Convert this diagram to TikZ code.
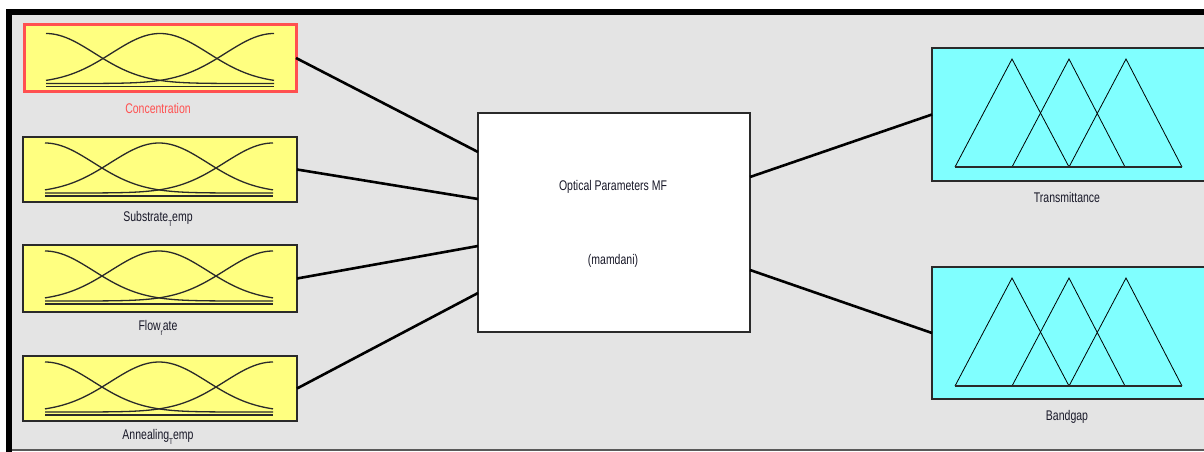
\documentclass[tikz,border=0pt]{standalone}
\usepackage{fontspec}
\newfontfamily\lab[FakeStretch=0.75]{Liberation Sans}
\usetikzlibrary{calc}
\definecolor{bggray}{HTML}{E4E4E4}
\definecolor{inyellow}{HTML}{FFFF80}
\definecolor{outcyan}{HTML}{80FFFF}
\definecolor{selred}{HTML}{FF5050}
\definecolor{boxline}{HTML}{2A2A2A}
\definecolor{txtgray}{HTML}{181828}
\newcommand{\sub}[1]{\raisebox{-0.7ex}{\fontsize{8.5}{8.5}\selectfont #1}}
\newcommand{\gaussmfs}{%
  \draw[mfline] plot[domain=0:228,samples=70] (\x,{56-50*exp(-0.5*((\x)/48.4)^2)});
  \draw[mfline] plot[domain=0:228,samples=70] (\x,{56-50*exp(-0.5*((\x-114)/48.4)^2)});
  \draw[mfline] plot[domain=0:228,samples=70] (\x,{56-50*exp(-0.5*((\x-228)/48.4)^2)});
  \draw[mfline] (0,59) -- (228,59);}
\newcommand{\trimfs}{%
  \draw[triline] (23,119) -- (80,11) -- (137,119);
  \draw[triline] (80,119) -- (137,11) -- (193,119);
  \draw[triline] (137,119) -- (194,11) -- (250,119);
  \draw[line width=1.6pt,color=boxline] (23,119) -- (250,119);}
\tikzset{
  inbox/.style={draw=boxline, fill=inyellow, line width=1.2pt, minimum width=274pt, inner sep=0pt, outer sep=0pt},
  outbox/.style={draw=boxline, fill=outcyan, line width=1.2pt, inner sep=0pt, outer sep=0pt},
  sysbox/.style={draw=boxline, fill=white, line width=1.6pt, minimum width=272pt, minimum height=219pt, inner sep=0pt, outer sep=0pt},
  lbl/.style={font=\lab\fontsize{14}{16}\selectfont, text=txtgray, inner sep=0pt},
  conn/.style={line width=2.6pt, color=black},
  mfline/.style={line width=1.3pt, color=boxline},
  triline/.style={line width=0.8pt, color=black},
}
\begin{document}
\begin{tikzpicture}[x=1pt,y=-1pt]
\useasboundingbox (0,0) rectangle (1204,452);
\clip (0,0) rectangle (1204,452);
\fill[white] (0,0) rectangle (1204,452);
\fill[bggray] (12,15) rectangle (1204,449);
\fill[black] (6,9) rectangle (1204,15);
\fill[black] (6,9) rectangle (12,452);
\fill[black!65] (12,449) rectangle (1204,451);
% inputs
\node[inbox, draw=selred, line width=3pt, minimum width=272pt, minimum height=67pt] (conc) at (160,58) {};
\node[inbox, minimum height=65pt] (subst) at (160,169.5) {};
\node[inbox, minimum height=67pt] (flow) at (160,278.5) {};
\node[inbox, minimum height=65pt] (anneal) at (160,388.5) {};
\begin{scope}[shift={($(conc.north west)+(22,3)$)}]\gaussmfs\end{scope}
\begin{scope}[shift={($(subst.north west)+(22,0)$)}]\gaussmfs\end{scope}
\begin{scope}[shift={($(flow.north west)+(22,0)$)}]\gaussmfs\end{scope}
\begin{scope}[shift={($(anneal.north west)+(22,0)$)}]\gaussmfs\end{scope}
\node[lbl, text=selred] (concl) at (158,108) {Concentration};
\node[lbl] (substl) at (158,219) {Substrate\sub{T}emp};
\node[lbl] (flowl) at (158,328) {Flow\sub{r}ate};
\node[lbl] (anneall) at (158,437) {Annealing\sub{T}emp};
% system
\node[sysbox] (sys) at (614,222.5) {};
\node[lbl] (sysa) at (613,187) {Optical Parameters MF};
\node[lbl] (sysb) at (613,261) {(mamdani)};
% outputs
\node[outbox, minimum width=283pt, minimum height=133pt] (trans) at (1073.5,114.5) {};
\node[outbox, minimum width=283pt, minimum height=132pt] (band) at (1073.5,333) {};
\begin{scope}[shift={(trans.north west)}]\trimfs\end{scope}
\begin{scope}[shift={(band.north west)}]\trimfs\end{scope}
\node[lbl] (transl) at (1067,197) {Transmittance};
\node[lbl] (bandl) at (1067,417) {Bandgap};
% connectors
\draw[conn] (conc.east) -- ($(sys.west)+(0,-70.5)$);
\draw[conn] (subst.east) -- ($(sys.west)+(0,-23.5)$);
\draw[conn] (flow.east) -- ($(sys.west)+(0,23.5)$);
\draw[conn] (anneal.east) -- ($(sys.west)+(0,70.5)$);
\draw[conn] ($(sys.east)+(0,-45.5)$) -- (trans.west);
\draw[conn] ($(sys.east)+(0,47.5)$) -- (band.west);
\end{tikzpicture}
\end{document}
